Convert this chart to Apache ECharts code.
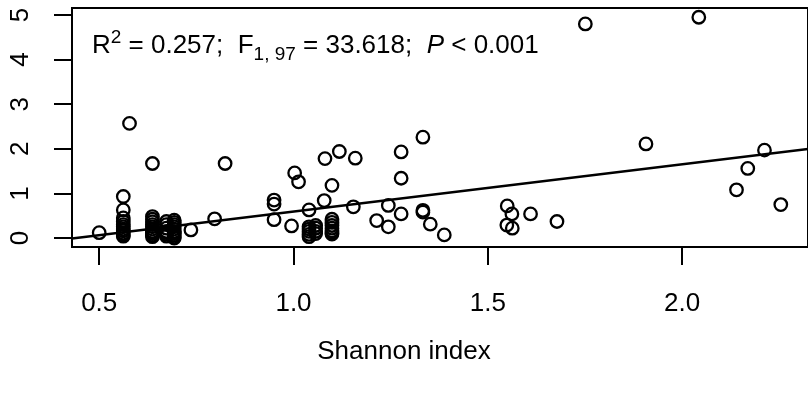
<!DOCTYPE html>
<html>
<head>
<meta charset="utf-8">
<script src="https://cdn.jsdelivr.net/npm/echarts@6/dist/echarts.min.js"></script>
<style>
html,body{margin:0;padding:0;background:#fff;}
#chart{width:808px;height:396px;}
</style>
</head>
<body>
<div id="chart"></div>
<script>
// Shannon index (x) and response (y) for each observation
const shannon = [
  0.500,
  0.562,0.562,0.562,0.562,0.562,0.562,0.562,0.562,0.562,0.562,0.562,
  0.578,
  0.637,0.637,0.637,0.637,0.637,0.637,0.637,0.637,0.637,0.637,0.637,0.637,
  0.673,0.673,0.673,0.673,0.673,0.673,0.673,
  0.693,0.693,0.693,0.693,0.693,0.693,0.693,0.693,0.693,0.693,0.693,
  0.736,0.797,0.824,
  0.950,0.950,0.950,
  0.995,1.003,1.013,
  1.040,1.040,1.040,1.040,1.040,1.040,
  1.057,1.057,1.057,1.057,
  1.079,1.081,
  1.099,1.099,1.099,1.099,1.099,1.099,1.099,1.099,
  1.118,1.159,1.154,1.214,
  1.244,1.244,
  1.277,1.277,1.277,
  1.333,1.333,1.333,
  1.352,1.388,
  1.550,1.562,1.549,1.563,
  1.610,1.678,
  1.751,1.907,2.043,2.140,2.169,2.212,2.254
];
const response = [
  0.12,
  0.93,0.63,0.45,0.37,0.30,0.25,0.20,0.16,0.11,0.07,0.04,
  2.57,
  1.67,0.48,0.42,0.36,0.30,0.25,0.20,0.15,0.12,0.10,0.06,0.03,
  0.37,0.30,0.22,0.15,0.12,0.08,0.04,
  0.40,0.35,0.30,0.25,0.20,0.15,0.12,0.10,0.06,0.02,0.00,
  0.18,0.43,1.67,
  0.85,0.76,0.41,
  0.27,1.46,1.26,
  0.63,0.25,0.20,0.15,0.08,0.03,
  0.28,0.22,0.15,0.10,
  0.84,1.78,
  1.18,0.42,0.35,0.28,0.22,0.16,0.12,0.09,
  1.94,1.79,0.70,0.39,
  0.73,0.25,
  1.93,1.34,0.54,
  2.26,0.62,0.58,
  0.31,0.07,
  0.72,0.54,0.29,0.22,
  0.54,0.37,
  4.80,2.11,4.95,1.08,1.56,1.97,0.75
];
// fitted regression line, read at the plot edges
const fitX = [0.43, 2.324];
const fitY = [-0.01, 1.995];
// tick values and labels
const xTicks = [0.5, 1.0, 1.5, 2.0];
const xTickLabels = ['0.5', '1.0', '1.5', '2.0'];
const yTicks = [0, 1, 2, 3, 4, 5];
const yTickLabels = ['0', '1', '2', '3', '4', '5'];
const xTitle = 'Shannon index';

const points = shannon.map((x, i) => [x, response[i]]);
const fitLine = fitX.map((x, i) => [x, fitY[i]]);

const FONT = 'Liberation Sans, Arial, Helvetica, sans-serif';
const FS = 26;
const chart = echarts.init(document.getElementById('chart'), null, {renderer: 'canvas'});
chart.setOption({
  animation: false,
  backgroundColor: '#fff',
  grid: {
    left: 72, top: 8, width: 744, height: 239,
    show: true, borderColor: '#000', borderWidth: 2, backgroundColor: 'transparent'
  },
  xAxis: {
    type: 'value', min: 0.43, max: 2.324,
    axisLine: {show: true, onZero: false, lineStyle: {color: '#000', width: 2}},
    axisTick: {show: true, inside: false, length: 18, customValues: xTicks, lineStyle: {color: '#000', width: 2}},
    axisLabel: {
      customValues: xTicks, margin: 44, color: '#000', fontSize: FS, fontFamily: FONT,
      formatter: v => xTickLabels[xTicks.indexOf(v)] ?? ''
    },
    splitLine: {show: false}
  },
  yAxis: {
    type: 'value', min: -0.2018, max: 5.157,
    axisLine: {show: true, onZero: false, lineStyle: {color: '#000', width: 2}},
    axisTick: {show: true, inside: false, length: 18, customValues: yTicks, lineStyle: {color: '#000', width: 2}},
    axisLabel: {
      customValues: yTicks, margin: 38, rotate: 90, color: '#000', fontSize: FS, fontFamily: FONT,
      formatter: v => yTickLabels[yTicks.indexOf(v)] ?? ''
    },
    splitLine: {show: false}
  },
  graphic: [
    {
      type: 'text', x: 404, y: 352,
      style: {
        text: xTitle, fill: '#000', fontSize: FS, fontFamily: FONT,
        align: 'center', verticalAlign: 'middle'
      }
    },
    {
      type: 'text', x: 92, y: 46,
      style: {
        verticalAlign: 'middle', align: 'left', fill: '#000',
        text: '{n|R}{sup|2}{n| = 0.257;  F}{sub|1, 97}{n| = 33.618;  }{it|P}{n| < 0.001}',
        rich: {
          n: {fontSize: FS, fontFamily: FONT, fill: '#000', lineHeight: 36, verticalAlign: 'middle'},
          it: {fontSize: FS, fontFamily: FONT, fontStyle: 'italic', fill: '#000', lineHeight: 36, verticalAlign: 'middle'},
          sup: {fontSize: 19, fontFamily: FONT, fill: '#000', lineHeight: 19, verticalAlign: 'top'},
          sub: {fontSize: 19, fontFamily: FONT, fill: '#000', lineHeight: 19, verticalAlign: 'bottom'}
        }
      }
    }
  ],
  series: [
    {
      type: 'scatter', data: points, symbol: 'circle', symbolSize: 12.5,
      itemStyle: {color: 'transparent', borderColor: '#000', borderWidth: 2.3, opacity: 1},
      silent: true, z: 3
    },
    {
      type: 'line', data: fitLine, showSymbol: false, symbol: 'none',
      lineStyle: {color: '#000', width: 2.5}, silent: true, z: 4, clip: true
    }
  ]
});
</script>
</body>
</html>
